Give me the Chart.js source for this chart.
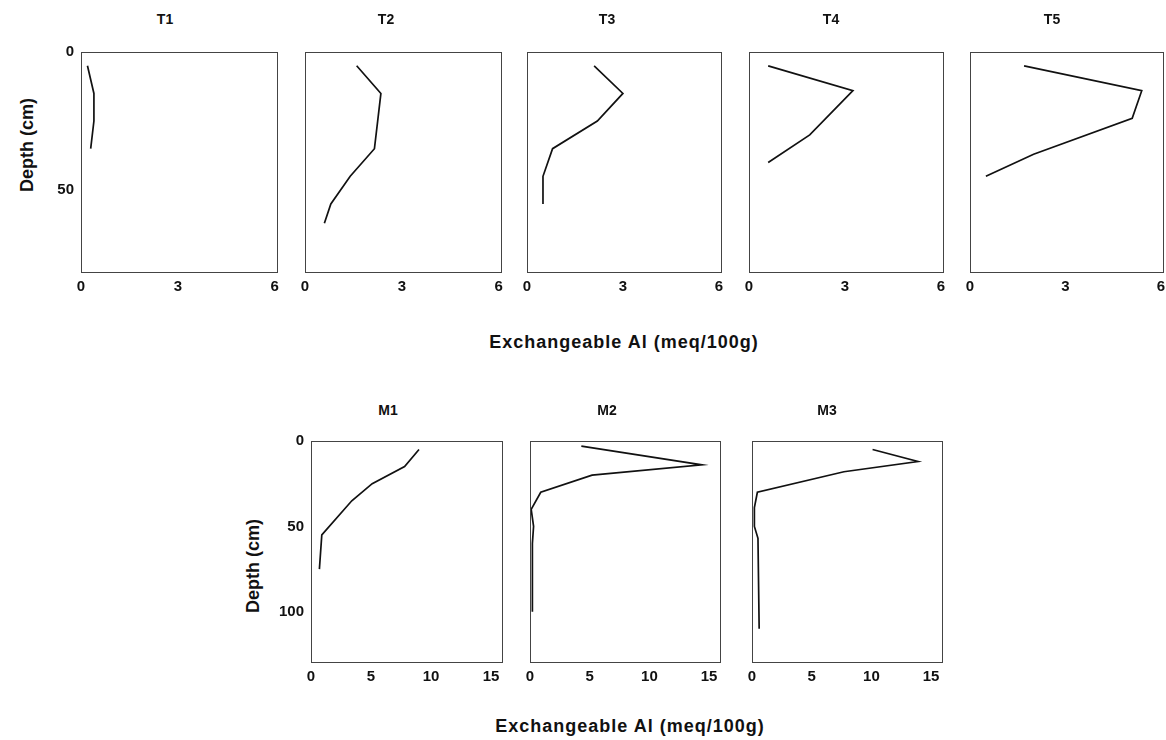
<!DOCTYPE html>
<html>
<head>
<meta charset="utf-8">
<script src="https://cdn.jsdelivr.net/npm/chart.js@4.4.0/dist/chart.umd.min.js"></script>
<style>
  html, body { margin: 0; padding: 0; background: #fff; }
  #fig { position: relative; width: 1166px; height: 740px; overflow: hidden;
         font-family: "Liberation Sans", Arial, sans-serif; color: #111; }
  #fig canvas { position: absolute; }
  .lbl { position: absolute; transform: translate(-50%, -50%); white-space: nowrap;
         line-height: 1; font-weight: bold; }
  .panel-title { font-size: 14px; }
  .axis-title { font-size: 18px; letter-spacing: 1px; }
  .depth-title { font-size: 18px; transform: translate(-50%, -50%) rotate(-90deg); }
</style>
</head>
<body>
<div id="fig"></div>
<script>
// Exchangeable Al (meq/100g) against depth (cm), one small profile per site.
const T1_DEPTH = [5, 15, 25, 35];
const T1_AL    = [0.2, 0.4, 0.4, 0.3];
const T2_DEPTH = [5, 15, 25, 35, 45, 55, 62];
const T2_AL    = [1.6, 2.35, 2.25, 2.15, 1.4, 0.8, 0.6];
const T3_DEPTH = [5, 15, 25, 35, 45, 55];
const T3_AL    = [2.1, 3.0, 2.2, 0.8, 0.5, 0.5];
const T4_DEPTH = [5, 14, 30, 40];
const T4_AL    = [0.6, 3.25, 1.9, 0.6];
const T5_DEPTH = [5, 14, 24, 37, 45];
const T5_AL    = [1.7, 5.4, 5.1, 2.0, 0.5];

const M1_DEPTH = [5, 15, 25, 35, 55, 75];
const M1_AL    = [9.0, 7.8, 5.1, 3.4, 0.9, 0.7];
const M2_DEPTH = [3, 14, 20, 30, 40, 50, 60, 100];
const M2_AL    = [4.3, 14.4, 5.2, 0.9, 0.1, 0.3, 0.2, 0.2];
const M3_DEPTH = [5, 12, 18, 30, 39, 50, 57, 110];
const M3_AL    = [10.1, 13.9, 7.7, 0.45, 0.2, 0.2, 0.5, 0.6];

// axis ranges per row
const T_X_MAX = 6.1, T_X_STEP = 3, T_Y_MAX = 80;
const M_X_MAX = 16,  M_X_STEP = 5, M_Y_MAX = 130;
const DEPTH_STEP = 50;

const X_TITLE = "Exchangeable Al (meq/100g)";
const Y_TITLE = "Depth (cm)";

// plot rectangles [left, top, width, height] and title centres
const PANELS = [
  { name: "T1", depth: T1_DEPTH, al: T1_AL, row: "T", box: [81, 52, 197, 221],  title: [165, 19], yTicks: true },
  { name: "T2", depth: T2_DEPTH, al: T2_AL, row: "T", box: [305, 52, 197, 221], title: [386, 19] },
  { name: "T3", depth: T3_DEPTH, al: T3_AL, row: "T", box: [527, 52, 195, 221], title: [607, 19] },
  { name: "T4", depth: T4_DEPTH, al: T4_AL, row: "T", box: [749, 52, 195, 221], title: [831, 19] },
  { name: "T5", depth: T5_DEPTH, al: T5_AL, row: "T", box: [970, 52, 194, 221], title: [1052, 19] },
  { name: "M1", depth: M1_DEPTH, al: M1_AL, row: "M", box: [311, 441, 192, 222], title: [388, 410], yTicks: true },
  { name: "M2", depth: M2_DEPTH, al: M2_AL, row: "M", box: [530, 441, 191, 222], title: [607, 410] },
  { name: "M3", depth: M3_DEPTH, al: M3_AL, row: "M", box: [752, 441, 191, 222], title: [827, 410] },
];

const ROW_AXES = {
  T: { xMax: T_X_MAX, xStep: T_X_STEP, yMax: T_Y_MAX },
  M: { xMax: M_X_MAX, xStep: M_X_STEP, yMax: M_Y_MAX },
};

// room round each plot for tick labels; big enough that Chart.js never grows it
const PAD_L = 40, PAD_T = 20, PAD_R = 14, PAD_B = 30;
const INK = "#111";
const TICK_FONT = { family: '"Liberation Sans", Arial, sans-serif', size: 15, weight: "bold" };

const fig = document.getElementById("fig");

// thin frame round the plotting area
const frameBox = {
  id: "frameBox",
  afterDraw(chart) {
    const { ctx, chartArea: a } = chart;
    ctx.save();
    ctx.strokeStyle = "#444";
    ctx.lineWidth = 1;
    ctx.strokeRect(Math.round(a.left) + 0.5, Math.round(a.top) + 0.5,
                   Math.round(a.width) - 1, Math.round(a.height) - 1);
    ctx.restore();
  },
};

function addLabel(text, x, y, cls) {
  const d = document.createElement("div");
  d.className = "lbl " + cls;
  d.textContent = text;
  d.style.left = x + "px";
  d.style.top = y + "px";
  fig.appendChild(d);
}

function makePanel(p) {
  const [left, top, w, h] = p.box;
  const axes = ROW_AXES[p.row];
  const canvas = document.createElement("canvas");
  canvas.width = w + PAD_L + PAD_R;
  canvas.height = h + PAD_T + PAD_B;
  canvas.style.left = (left - PAD_L) + "px";
  canvas.style.top = (top - PAD_T) + "px";
  fig.appendChild(canvas);

  new Chart(canvas, {
    type: "scatter",
    data: {
      datasets: [{
        data: p.al.map((v, i) => ({ x: v, y: p.depth[i] })),
        showLine: true,
        borderColor: INK,
        borderWidth: 1.7,
        pointRadius: 0,
        tension: 0,
        fill: false,
      }],
    },
    options: {
      responsive: false,
      animation: false,
      events: [],
      layout: { padding: { top: PAD_T, right: PAD_R, left: 0, bottom: 0 } },
      plugins: { legend: { display: false }, tooltip: { enabled: false } },
      scales: {
        x: {
          type: "linear", min: 0, max: axes.xMax,
          grid: { display: false, drawTicks: false },
          border: { display: false },
          ticks: { stepSize: axes.xStep, includeBounds: false, padding: 5, color: INK,
                   font: TICK_FONT, maxRotation: 0, autoSkip: false },
          afterFit: (s) => { s.height = PAD_B; },
        },
        y: {
          type: "linear", reverse: true, min: 0, max: axes.yMax,
          grid: { display: false, drawTicks: false },
          border: { display: false },
          ticks: { display: !!p.yTicks, stepSize: DEPTH_STEP, includeBounds: false, padding: 7,
                   color: INK, font: TICK_FONT, autoSkip: false },
          afterFit: (s) => { s.width = PAD_L; },
        },
      },
    },
    plugins: [frameBox],
  });

  addLabel(p.name, p.title[0], p.title[1], "panel-title");
}

PANELS.forEach(makePanel);

addLabel(Y_TITLE, 27, 145, "depth-title");
addLabel(Y_TITLE, 253, 566, "depth-title");
addLabel(X_TITLE, 624, 342, "axis-title");
addLabel(X_TITLE, 630, 726, "axis-title");
</script>
</body>
</html>
